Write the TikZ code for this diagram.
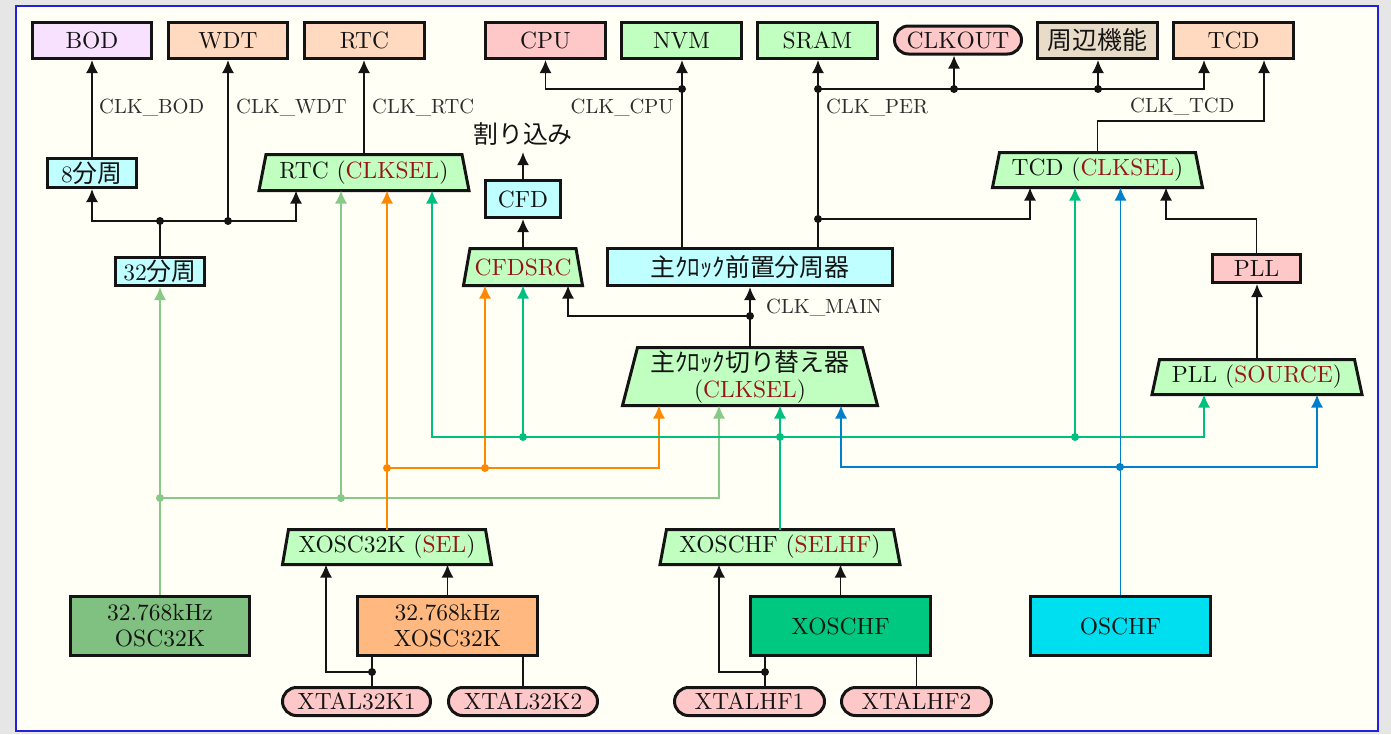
\documentclass[tikz,border=0pt]{standalone}
\usepackage{fontspec}
\setmainfont{lmroman10-regular}[Extension=.otf]
\newfontfamily\jp{Noto Sans CJK JP}[Scale=1.06]
\usetikzlibrary{arrows.meta,shapes.misc}
\pgfdeclarelayer{bg}
\pgfsetlayers{bg,main}
\definecolor{outgray}{HTML}{E6E6E6}
\definecolor{cream}{HTML}{FFFFF6}
\definecolor{frameblue}{HTML}{2222DD}
\definecolor{bodc}{HTML}{F8E0FF}
\definecolor{peach}{HTML}{FFDAC0}
\definecolor{pinkc}{HTML}{FFC8C8}
\definecolor{lgreen}{HTML}{C0FFC0}
\definecolor{tanc}{HTML}{E8DCC8}
\definecolor{lcyan}{HTML}{C0FFFF}
\definecolor{osc32c}{HTML}{80C080}
\definecolor{xosc32c}{HTML}{FFB880}
\definecolor{xoschfc}{HTML}{00C880}
\definecolor{oschfc}{HTML}{00DFF0}
\definecolor{dred}{HTML}{991515}
\definecolor{lgline}{HTML}{88C888}
\definecolor{orline}{HTML}{FF8800}
\definecolor{grline}{HTML}{00C080}
\definecolor{blline}{HTML}{0080CC}
\definecolor{ink}{HTML}{141414}
\newcommand\bigf{\fontsize{23.5}{26}\selectfont}
\newcommand\lblf{\fontsize{20.5}{24}\selectfont}
\tikzset{
  box/.style={draw=ink, line width=3pt, inner sep=0pt, font=\bigf, text=ink, minimum height=36pt},
  pill/.style={rounded rectangle, draw=ink, line width=3pt, inner sep=0pt, font=\bigf, text=ink, minimum height=28pt, fill=pinkc},
  trapn/.style={inner sep=0pt, outer sep=0pt, font=\bigf, text=ink, align=center},
  trapdraw/.style={draw=ink, line width=3pt, fill=lgreen, line join=miter},
  lbl/.style={font=\lblf, inner sep=0pt, text=ink!90},
  wire/.style={line width=1.8pt, draw=ink},
  arr/.style={wire, -{Latex[length=13pt,width=12pt]}},
  lgarr/.style={line width=1.6pt, draw=lgline, -{Latex[length=13pt,width=12pt]}},
  oarr/.style={line width=1.6pt, draw=orline, -{Latex[length=13pt,width=12pt]}},
  garr/.style={line width=1.6pt, draw=grline, -{Latex[length=13pt,width=12pt]}},
  barr/.style={line width=1.6pt, draw=blline, -{Latex[length=13pt,width=12pt]}},
}
\begin{document}
\begin{tikzpicture}[x=1pt,y=-1pt]
\useasboundingbox (0,0) rectangle (1391,734);
\begin{pgfonlayer}{bg}
\fill[outgray] (0,0) rectangle (1391,734);
\filldraw[fill=cream, draw=frameblue, line width=1.5pt] (16,6) rectangle (1378,731);
\end{pgfonlayer}

% top row
\node[box, fill=bodc, minimum width=119pt] (bod) at (92,40.5) {BOD};
\node[box, fill=peach, minimum width=119pt] (wdt) at (228,40.5) {WDT};
\node[box, fill=peach, minimum width=120pt] (rtc) at (364.5,40.5) {RTC};
\node[box, fill=pinkc, minimum width=120pt] (cpu) at (545.5,40.5) {CPU};
\node[box, fill=lgreen, minimum width=120pt] (nvm) at (681.5,40.5) {NVM};
\node[box, fill=lgreen, minimum width=120pt] (sram) at (817.5,40.5) {SRAM};
\node[pill, minimum width=127pt] (clkout) at (958,40) {CLKOUT};
\node[box, fill=tanc, minimum width=120pt] (shuhen) at (1097.5,40.5) {\jp 周辺機能};
\node[box, fill=peach, minimum width=120pt] (tcd) at (1233.5,40.5) {TCD};

% second row
\node[box, fill=lcyan, minimum width=89pt, minimum height=29pt] (div8) at (92,173) {8{\jp 分周}};
\node[trapn, minimum width=196pt, minimum height=36pt] (rtcsel) at (364,172.5) {RTC ({\color{dred}CLKSEL})};
\node[inner sep=0pt, anchor=base, font=\bigf\jp, text=ink] (irq) at (523,143) {割り込み};
\node[box, fill=lcyan, minimum width=75pt, minimum height=37pt] (cfd) at (523,199) {CFD};
\node[trapn, minimum width=196pt, minimum height=35pt] (tcdsel) at (1097.5,170) {TCD ({\color{dred}CLKSEL})};

% third row
\node[box, fill=lcyan, minimum width=89pt, minimum height=28pt] (div32) at (160,271.5) {32{\jp 分周}};
\node[trapn, minimum width=106pt, minimum height=37pt] (cfdsrc) at (523,267) {\color{dred}CFDSRC};
\node[box, fill=lcyan, minimum width=285pt, minimum height=37pt] (presc) at (750,267) {\jp 主ｸﾛｯｸ前置分周器};
\node[box, fill=pinkc, minimum width=88pt, minimum height=28pt] (pll) at (1256.5,268.5) {PLL};

% fourth row
\node[trapn, minimum width=225pt, minimum height=58pt] (mainsel) at (750,376.5) {{\jp 主ｸﾛｯｸ切り替え器}\\({\color{dred}CLKSEL})};
\node[trapn, minimum width=195pt, minimum height=35pt] (pllsel) at (1257,377) {PLL ({\color{dred}SOURCE})};

% fifth row
\node[trapn, minimum width=197pt, minimum height=35pt] (xsel) at (387,547) {XOSC32K ({\color{dred}SEL})};
\node[trapn, minimum width=227pt, minimum height=35pt] (hfsel) at (780,547) {XOSCHF ({\color{dred}SELHF})};

% oscillators
\node[box, fill=osc32c, minimum width=179pt, minimum height=59pt, align=center] (osc32k) at (160,626) {32.768kHz\\OSC32K};
\node[box, fill=xosc32c, minimum width=180pt, minimum height=59pt, align=center] (xosc32k) at (447.5,626) {32.768kHz\\XOSC32K};
\node[box, fill=xoschfc, minimum width=180pt, minimum height=59pt] (xoschf) at (840.5,626) {XOSCHF};
\node[box, fill=oschfc, minimum width=180pt, minimum height=59pt] (oschf) at (1120.5,626) {OSCHF};

% pins
\node[pill, minimum width=148pt] (xtal1) at (356.5,701.5) {XTAL32K1};
\node[pill, minimum width=149pt] (xtal2) at (523,701.5) {XTAL32K2};
\node[pill, minimum width=150pt] (xtalhf1) at (749.5,701.5) {XTALHF1};
\node[pill, minimum width=150pt] (xtalhf2) at (916.5,701.5) {XTALHF2};

% trapezoid outlines
\begin{pgfonlayer}{bg}
\foreach \nn/\ii in {rtcsel/7, cfdsrc/6.5, tcdsel/7, mainsel/15, pllsel/7.5, xsel/6, hfsel/6.5}
  \filldraw[trapdraw] (\nn.north west) -- (\nn.north east) -- ([xshift=\ii]\nn.south east) -- ([xshift=-\ii]\nn.south west) -- cycle;
\end{pgfonlayer}

% junction coordinates
\coordinate (j1) at (160,221); \coordinate (j2) at (228,221); \coordinate (j3) at (296,221);
\coordinate (c1) at (682,89); \coordinate (c2) at (818,89); \coordinate (c3) at (818,219);
\coordinate (c4) at (954,89); \coordinate (c5) at (1098,89); \coordinate (c6) at (1204,89);
\coordinate (t1) at (1030,219); \coordinate (t3) at (1264,121); \coordinate (p1) at (1166,219);
\coordinate (m1) at (750,316); \coordinate (m2) at (568,316);
\coordinate (x1) at (372,672); \coordinate (x2) at (326,672);
\coordinate (h1) at (765,672); \coordinate (h2) at (719,672);
\coordinate (g1) at (160,498); \coordinate (g2) at (341,498); \coordinate (g3) at (719,498);
\coordinate (o1) at (387,468); \coordinate (o2) at (485,468); \coordinate (o3) at (659,468);
\coordinate (e0) at (780,437); \coordinate (e1) at (432,437); \coordinate (e2) at (523,437);
\coordinate (e4) at (1075,437); \coordinate (e5) at (1204,437);
\coordinate (b0) at (1120,467); \coordinate (b1) at (841,467); \coordinate (b2) at (1317,467);

% colored wires (under black ones)
\draw[lgarr] (osc32k.north) -- (div32.south);
\draw[lgarr] (g1) -- (g3) -- (g3 |- mainsel.south);
\draw[lgarr] (g2) -- (g2 |- rtcsel.south);
\draw[oarr] (xsel.north) -- (xsel.north |- rtcsel.south);
\draw[oarr] (o1) -- (o3) -- (o3 |- mainsel.south);
\draw[oarr] (o2) -- (o2 |- cfdsrc.south);
\draw[garr] (hfsel.north) -- (hfsel.north |- mainsel.south);
\draw[garr] (e0) -- (e1) -- (e1 |- rtcsel.south);
\draw[garr] (e0) -- (e5) -- (e5 |- pllsel.south);
\draw[garr] (e2) -- (e2 |- cfdsrc.south);
\draw[garr] (e4) -- (e4 |- tcdsel.south);
\draw[barr] (oschf.north) -- (oschf.north |- tcdsel.south);
\draw[barr] (b0) -- (b1) -- (b1 |- mainsel.south);
\draw[barr] (b0) -- (b2) -- (b2 |- pllsel.south);
\fill[lgline] (g1) circle (4pt) (g2) circle (4pt);
\fill[orline] (o1) circle (4pt) (o2) circle (4pt);
\fill[grline] (e0) circle (4pt) (e2) circle (4pt) (e4) circle (4pt);
\fill[blline] (b0) circle (4pt);

% black wires: left group
\draw[wire] (div32.north) -- (j1);
\draw[arr] (j1) -| (div8.south);
\draw[arr] (j1) -- (j3) -- (j3 |- rtcsel.south);
\draw[arr] (j2) -- (wdt.south);
\draw[arr] (div8.north) -- (bod.south);
\draw[arr] (rtcsel.north) -- (rtcsel.north |- rtc.south);
\node[lbl, anchor=base west] (lbod) at (99,113) {CLK\_BOD};
\node[lbl, anchor=base west] (lwdt) at (236,113) {CLK\_WDT};
\node[lbl, anchor=base west] (lrtc) at (372,113) {CLK\_RTC};

% CFD
\draw[arr] (cfdsrc.north) -- (cfd.south);
\draw[arr] (cfd.north) -- ([yshift=-7pt]irq.south);

% CPU / NVM
\draw[arr] (presc.north -| c1) -- (c1 |- nvm.south);
\draw[arr] (c1) -| (cpu.south);
\node[lbl, anchor=base east] (lcpu) at (674,113) {CLK\_CPU};

% PER
\draw[arr] (presc.north -| c2) -- (c2 |- sram.south);
\draw[arr] (c2) -- (c6) -- (c6 |- tcd.south);
\draw[arr] (c4) -- (c4 |- clkout.south);
\draw[arr] (c5) -- (c5 |- shuhen.south);
\draw[arr] (c3) -- (t1) -- (t1 |- tcdsel.south);
\node[lbl, anchor=base west] (lper) at (826,113) {CLK\_PER};

% TCD
\draw[arr] (tcdsel.north) |- (t3) -- (t3 |- tcd.south);
\node[lbl, anchor=base west] (ltcd) at (1130,112) {CLK\_TCD};
\draw[arr] (pll.north) |- (p1) -- (p1 |- tcdsel.south);
\draw[arr] (pllsel.north) -- (pllsel.north |- pll.south);

% MAIN
\draw[wire] (mainsel.north) -- (m1);
\draw[arr] (m1) -- (presc.south);
\draw[arr] (m1) -- (m2) -- (m2 |- cfdsrc.south);
\node[lbl, anchor=base west] (lmain) at (766,313) {CLK\_MAIN};

% bottom
\draw[wire] (xosc32k.south -| x1) -- (xtal1.north -| x1);
\draw[arr] (x1) -- (x2) -- (x2 |- xsel.south);
\draw[wire] (xosc32k.south -| xtal2.north) -- (xtal2.north);
\draw[arr] (xosc32k.north) -- (xosc32k.north |- xsel.south);
\draw[wire] (xoschf.south -| h1) -- (xtalhf1.north -| h1);
\draw[arr] (h1) -- (h2) -- (h2 |- hfsel.south);
\draw[wire] (xoschf.south -| xtalhf2.north) -- (xtalhf2.north);
\draw[arr] (xoschf.north) -- (xoschf.north |- hfsel.south);

\fill[ink] (j1) circle (4pt) (j2) circle (4pt) (c1) circle (4pt) (c2) circle (4pt)
  (c3) circle (4pt) (c4) circle (4pt) (c5) circle (4pt) (m1) circle (4pt)
  (x1) circle (4pt) (h1) circle (4pt);
\end{tikzpicture}
\end{document}
